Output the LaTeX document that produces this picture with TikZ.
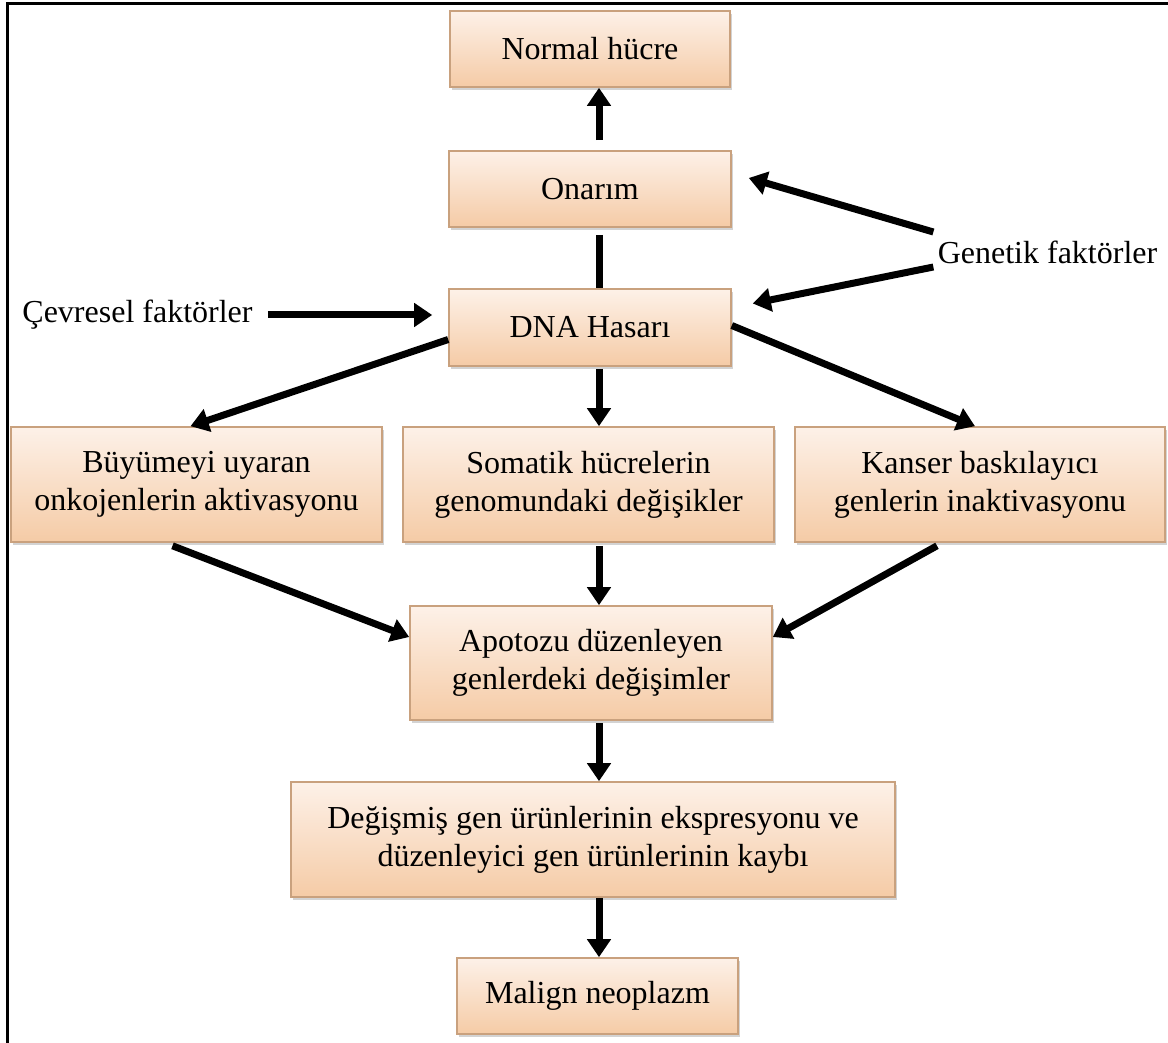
\documentclass[tikz,border=0pt]{standalone}
\usepackage{fontspec}
\setmainfont{Liberation Serif}
\usepackage{tikz}
\usetikzlibrary{positioning, arrows.meta, shadows}
\definecolor{kutuUst}{HTML}{FDF1E8}
\definecolor{kutuAlt}{HTML}{F5CBA6}
\definecolor{kutuKenar}{HTML}{C9A17E}

\begin{document}
\begin{tikzpicture}[x=0.5pt, y=-0.5pt,
    kutu/.style={draw=kutuKenar, line width=0.8pt, top color=kutuUst, bottom color=kutuAlt,
      align=center, inner sep=2pt, font=\fontsize{16}{19}\selectfont,
      drop shadow={shadow xshift=1.2pt, shadow yshift=-1.5pt, opacity=0.35, fill=black!50}},
    etiket/.style={font=\fontsize{16}{19}\selectfont, inner sep=2pt},
    ok/.style={-{Triangle[width=11.5pt, length=9pt]}, line width=3.5pt},
    cizgi/.style={line width=3.5pt}]
    \useasboundingbox (0,0) rectangle (1168,1043);
    % frame
    \draw[line width=1.5pt] (1168,3.5) -- (7,3.5) -- (7,1043);
    % boxes
    \node[kutu, minimum width=140pt, minimum height=38pt] (normal) at (590,49) {Normal hücre};
    \node[kutu, minimum width=141pt, minimum height=38pt] (onarim) at (590,189) {Onarım};
    \node[kutu, minimum width=141pt, minimum height=38.5pt] (dna) at (590,327.5) {DNA Hasarı};
    \node[kutu, minimum width=185.5pt, minimum height=57.5pt] (buyume) at (196.5,484.5) {Büyümeyi uyaran\\onkojenlerin aktivasyonu};
    \node[kutu, minimum width=185.5pt, minimum height=57.5pt] (somatik) at (588.5,484.5) {Somatik hücrelerin\\genomundaki değişikler};
    \node[kutu, minimum width=185pt, minimum height=57.5pt] (kanser) at (980,484.5) {Kanser baskılayıcı\\genlerin inaktivasyonu};
    \node[kutu, minimum width=181pt, minimum height=57pt] (apoptoz) at (591,663) {Apotozu düzenleyen\\genlerdeki değişimler};
    \node[kutu, minimum width=302pt, minimum height=57.5pt] (degisim) at (593,839.5) {Değişmiş gen ürünlerinin ekspresyonu ve\\düzenleyici gen ürünlerinin kaybı};
    \node[kutu, minimum width=140.5pt, minimum height=38pt] (malign) at (597.5,996) {Malign neoplazm};
    % side labels
    \node[etiket] (genetik) at (1047.5,252) {Genetik faktörler};
    \node[etiket] (cevre) at (137.5,315) {Çevresel faktörler};
    \coordinate (eksen) at (599,0);
    % main column
    \draw[ok, shorten <=5pt] (onarim.north -| eksen) -- (normal.south -| eksen);
    \draw[cizgi, shorten <=3.5pt] (onarim.south -| eksen) -- (dna.north -| eksen);
    \draw[ok, shorten <=1pt] (dna.south -| eksen) -- (somatik.north -| eksen);
    \draw[ok, shorten <=1.5pt] (somatik.south -| eksen) -- (apoptoz.north -| eksen);
    \draw[ok, shorten <=1pt] (apoptoz.south -| eksen) -- (degisim.north -| eksen);
    \draw[ok] (degisim.south -| eksen) -- (malign.north -| eksen);
    % branches
    \draw[ok] ([yshift=-6pt]dna.west) -- ([xshift=-3pt]buyume.north);
    \draw[ok] ([yshift=1pt]dna.east) -- ([xshift=-2.5pt]kanser.north);
    \draw[ok] ([xshift=-12pt, yshift=-1.5pt]buyume.south) -- ([yshift=13pt]apoptoz.west);
    \draw[ok] ([xshift=-21.5pt, yshift=-1.5pt]kanser.south) -- ([yshift=13pt]apoptoz.east);
    % factors
    \draw[ok] ([yshift=10pt]genetik.west) -- ([xshift=8.5pt, yshift=5.5pt]onarim.east);
    \draw[ok] ([yshift=-7.5pt]genetik.west) -- ([xshift=10.5pt, yshift=12pt]dna.east);
    \draw[ok, shorten <=5.5pt, shorten >=8pt] (cevre.east) -- (cevre.east -| dna.west);
\end{tikzpicture}
\end{document}
